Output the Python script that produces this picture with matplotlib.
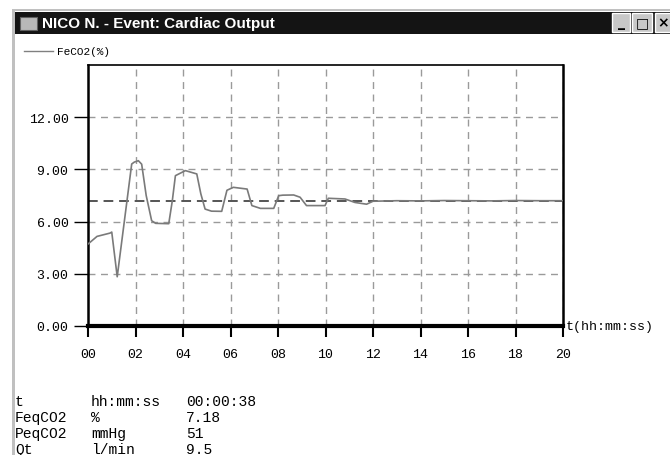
import matplotlib
matplotlib.use('Agg')
import matplotlib.pyplot as plt
from matplotlib.patches import Rectangle
from matplotlib.lines import Line2D

# data (time in minutes, FeCO2 in %)
t_min = [0.0, 0.38, 0.93, 1.0, 1.23, 1.84, 1.95, 2.12, 2.26, 2.45, 2.68, 2.85, 3.4,
         3.55, 3.68, 4.1, 4.58, 4.75, 4.93, 5.2, 5.63, 5.85, 6.12, 6.7, 6.9,
         7.26, 7.82, 8.03, 8.2, 8.66, 8.93, 9.2, 9.98, 10.12, 10.82, 11.24,
         11.73, 12.0, 13.0, 14.0, 15.0, 16.0, 17.0, 18.0, 19.0, 20.0]
feco2 = [4.71, 5.15, 5.34, 5.4, 2.83, 9.31, 9.42, 9.5, 9.3, 7.5, 6.05, 5.9, 5.88,
         7.2, 8.64, 8.93, 8.74, 7.6, 6.72, 6.6, 6.59, 7.8, 7.97, 7.87, 6.92,
         6.76, 6.76, 7.49, 7.52, 7.53, 7.4, 6.92, 6.92, 7.34, 7.3, 7.1,
         7.0, 7.17, 7.2, 7.19, 7.21, 7.2, 7.19, 7.21, 7.2, 7.2]

x_ticks = [0, 2, 4, 6, 8, 10, 12, 14, 16, 18, 20]
x_labels = ['00', '02', '04', '06', '08', '10', '12', '14', '16', '18', '20']
y_ticks = [0, 3, 6, 9, 12]

feq_co2 = 7.18
table_rows = [('t', 'hh:mm:ss', '00:00:38'),
              ('FeqCO2', '%', '7.18'),
              ('PeqCO2', 'mmHg', '51'),
              ('Qt', 'l/min', '9.5')]

W, H = 670, 456
mono = ['Liberation Mono', 'DejaVu Sans Mono']


def fx(x):
    return x / W


def fy(y):
    return 1 - y / H


fig = plt.figure(figsize=(W / 100, H / 100), dpi=100)
fig.patch.set_facecolor('white')

# window frame + title bar
fig.patches.append(Rectangle((fx(12), fy(456)), 3 / W, 446 / H, transform=fig.transFigure,
                             facecolor='#c0c0c0', edgecolor='none'))
fig.patches.append(Rectangle((fx(12), fy(12)), 658 / W, 2 / H, transform=fig.transFigure,
                             facecolor='#c0c0c0', edgecolor='none'))
fig.patches.append(Rectangle((fx(15), fy(35)), 655 / W, 22 / H, transform=fig.transFigure,
                             facecolor='#141414', edgecolor='none'))
# icon
fig.patches.append(Rectangle((fx(20), fy(31)), 17 / W, 13 / H, transform=fig.transFigure,
                             facecolor='#b8b8b8', edgecolor='#606060', lw=0.8))
fig.text(fx(42), fy(24), 'NICO N. - Event: Cardiac Output', color='white',
         fontsize=11, fontweight='bold', family=['Liberation Sans', 'DejaVu Sans'],
         va='center', ha='left')
# min / max / close buttons
for bx, bw, glyph in [(612, 18, '_'), (632, 20, '□'), (655, 17, '×')]:
    fig.patches.append(Rectangle((fx(bx), fy(33)), bw / W, 19 / H, transform=fig.transFigure,
                                 facecolor='#c8c8c8', edgecolor='white', lw=1))
    fig.text(fx(bx + bw / 2), fy(23), glyph, color='black', fontsize=10,
             fontweight='bold', ha='center', va='center')

# legend
fig.lines.append(Line2D([fx(24), fx(53)], [fy(52), fy(52)], transform=fig.transFigure,
                        color='#808080', lw=1))
fig.text(fx(57), fy(52), 'FeCO2(%)', fontsize=8, family=mono, va='center', ha='left')

# plot area
ax = fig.add_axes([fx(88), fy(327), (563 - 88) / W, (327 - 66) / H])
ax.set_xlim(0, 20)
ax.set_ylim(0, 15)
ax.set_xticks(x_ticks)
ax.set_xticklabels(x_labels)
ax.set_yticks(y_ticks)
ax.set_yticklabels(['%.2f' % v for v in y_ticks])
for lab in ax.get_xticklabels() + ax.get_yticklabels():
    lab.set_family(mono)
    lab.set_fontsize(9.5)
ax.tick_params(axis='y', length=10, width=1, pad=4, direction='out')
ax.tick_params(axis='x', length=8, width=1.5, pad=8, direction='out')

for gx in x_ticks[1:]:
    ax.axvline(gx, color='#9a9a9a', lw=1, ls=(0, (5, 4)), zorder=1)
for gy in y_ticks[1:]:
    ax.axhline(gy, color='#9a9a9a', lw=1, ls=(0, (5, 4)), zorder=1)
ax.axhline(feq_co2, color='#555555', lw=1.4, ls=(0, (5, 3)), zorder=2)

ax.plot(t_min, feco2, color='#7a7a7a', lw=1.2, zorder=3)

ax.spines['bottom'].set_linewidth(3)
ax.spines['left'].set_linewidth(1.8)
ax.spines['top'].set_linewidth(1.2)
ax.spines['right'].set_linewidth(1.8)

fig.text(fx(566), fy(327), 't(hh:mm:ss)', fontsize=9.5, family=mono, va='center', ha='left')

# value table below the chart
for i, (name, unit, val) in enumerate(table_rows):
    y = fy(402 + 16 * i)
    fig.text(fx(15), y, name, fontsize=10.5, family=mono, va='center')
    fig.text(fx(91), y, unit, fontsize=10.5, family=mono, va='center')
    fig.text(fx(186), y, val, fontsize=10.5, family=mono, va='center')

fig.savefig('out.png', dpi=100)
